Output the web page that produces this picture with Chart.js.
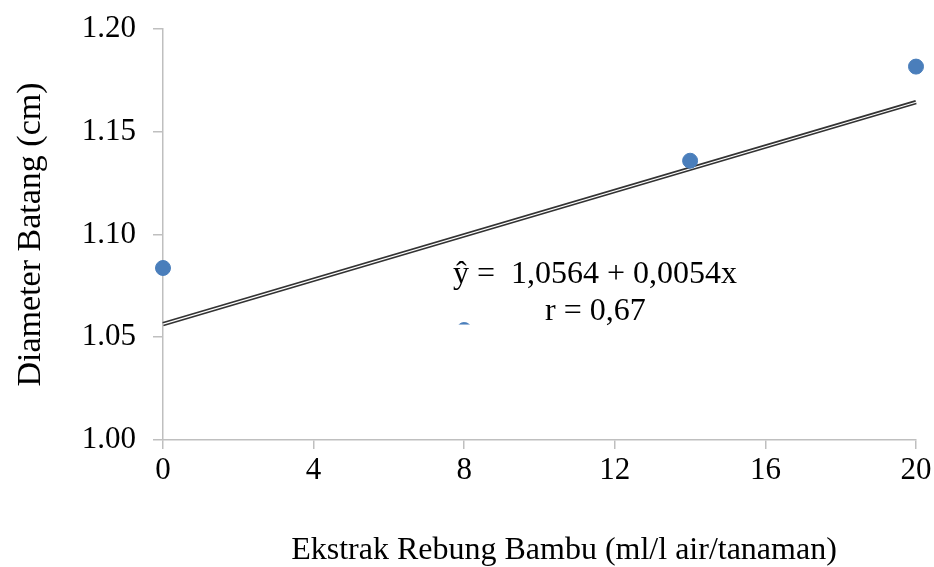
<!DOCTYPE html>
<html>
<head>
<meta charset="utf-8">
<script src="https://cdn.jsdelivr.net/npm/chart.js@4/dist/chart.umd.min.js"></script>
<style>
  html, body { margin: 0; padding: 0; background: #fff; }
  #wrap { width: 934px; height: 567px; position: relative; }
</style>
</head>
<body>
<div id="wrap"><canvas id="c" width="934" height="567"></canvas></div>
<script>
// Data
const doseX = [0, 8, 14, 20];
const diameterY = [1.0837, 1.0535, 1.1359, 1.1817];
const trendIntercept = 1.0564;
const trendSlope = 0.0054;
const trendX = [0, 20];
const xTicks = [0, 4, 8, 12, 16, 20];
const yTicks = [1.00, 1.05, 1.10, 1.15, 1.20];
const xTitle = 'Ekstrak Rebung Bambu (ml/l air/tanaman)';
const yTitle = 'Diameter Batang (cm)';
const eqLine1 = 'ŷ =  1,0564 + 0,0054x';
const eqLine2 = 'r = 0,67';

const pointData = doseX.map((x, i) => ({ x: x, y: diameterY[i] }));
const trendData = trendX.map(x => ({ x: x, y: trendIntercept + trendSlope * x }));

const serif = "'Liberation Serif', 'Times New Roman', serif";
const axisColor = '#bfbfbf';

const annotationPlugin = {
  id: 'eqLabel',
  afterDatasetsDraw(chart) {
    const ctx = chart.ctx;
    const xs = chart.scales.x, ys = chart.scales.y;
    // label box partly hides the point at x = 8
    const px = xs.getPixelForValue(doseX[1]);
    const py = ys.getPixelForValue(diameterY[1]);
    ctx.save();
    ctx.fillStyle = '#ffffff';
    ctx.fillRect(px - 14, py - 5.5, 40, 20);
    ctx.fillStyle = '#000000';
    ctx.font = '32px ' + serif;
    ctx.textAlign = 'left';
    ctx.textBaseline = 'alphabetic';
    ctx.fillText(eqLine1, 453, 283);
    ctx.fillText(eqLine2, 545, 320);
    // x axis title
    ctx.textAlign = 'center';
    ctx.textBaseline = 'middle';
    ctx.fillText(xTitle, 564, 551);
    ctx.restore();
  }
};

new Chart(document.getElementById('c'), {
  type: 'scatter',
  data: {
    datasets: [
      {
        type: 'line',
        data: trendData,
        borderColor: '#333333',
        borderWidth: 4.4,
        pointRadius: 0,
        fill: false,
        clip: false,
        order: 3
      },
      {
        type: 'line',
        data: trendData,
        borderColor: '#ffffff',
        borderWidth: 1.1,
        pointRadius: 0,
        fill: false,
        clip: false,
        order: 2
      },
      {
        data: pointData,
        backgroundColor: '#4a7ebb',
        borderColor: '#4a7ebb',
        pointRadius: 7.5,
        pointHoverRadius: 7.5,
        clip: false,
        order: 1
      }
    ]
  },
  options: {
    responsive: false,
    animation: false,
    events: [],
    layout: { padding: { left: 0, right: 18, top: 29, bottom: 0 } },
    plugins: { legend: { display: false }, tooltip: { enabled: false } },
    scales: {
      x: {
        type: 'linear',
        min: 0, max: 20,
        afterBuildTicks: s => { s.ticks = xTicks.map(v => ({ value: v })); },
        afterFit: s => { s.height = 127; s.paddingLeft = 0; s.paddingRight = 0; },
        ticks: {
          color: '#000',
          font: { family: serif, size: 31 },
          padding: 3,
          maxRotation: 0,
          callback: v => String(v)
        },
        grid: { display: true, drawOnChartArea: false, drawTicks: true, tickLength: 9, color: axisColor, lineWidth: 1.5 },
        border: { display: true, color: axisColor, width: 1.5 },
        title: { display: false }
      },
      y: {
        type: 'linear',
        min: 1.0, max: 1.2,
        afterBuildTicks: s => { s.ticks = yTicks.map(v => ({ value: v })); },
        afterFit: s => { s.width = 163; s.paddingTop = 0; s.paddingBottom = 0; },
        ticks: {
          color: '#000',
          font: { family: serif, size: 31 },
          padding: 17,
          callback: v => v.toFixed(2)
        },
        grid: { display: true, drawOnChartArea: false, drawTicks: true, tickLength: 10, color: axisColor, lineWidth: 1.5 },
        border: { display: true, color: axisColor, width: 1.5 },
        title: {
          display: true,
          text: yTitle,
          color: '#000',
          font: { family: serif, size: 34, lineHeight: 1.1 },
          padding: { top: 12, bottom: 0 }
        }
      }
    }
  },
  plugins: [annotationPlugin]
});
</script>
</body>
</html>
